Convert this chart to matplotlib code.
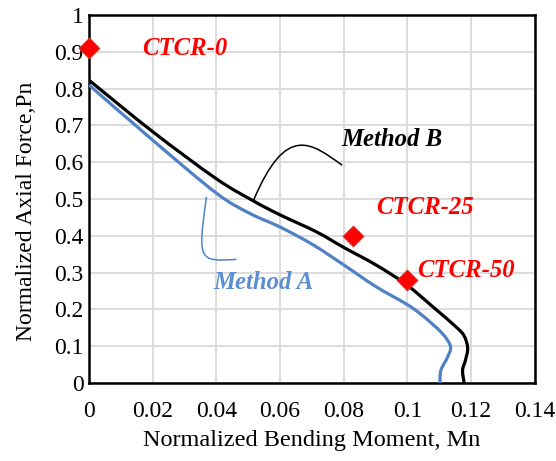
import numpy as np
import matplotlib.pyplot as plt
from matplotlib.path import Path
from matplotlib.patches import PathPatch

# Method A (blue) interaction curve
mA_x = [0.0, 0.02, 0.04, 0.0505, 0.06, 0.0703, 0.08, 0.0901, 0.0996,
        0.1045, 0.1107, 0.1135, 0.1126, 0.1105, 0.1102]
mA_y = [0.810, 0.660, 0.516, 0.461, 0.424, 0.376, 0.321, 0.262, 0.215,
        0.185, 0.137, 0.100, 0.071, 0.035, 0.0]

# Method B (black) interaction curve
mB_x = [0.0, 0.02, 0.04, 0.0516, 0.06, 0.0714, 0.0797, 0.0901, 0.0996, 0.108,
        0.1152, 0.1178, 0.1189, 0.1182, 0.1173, 0.1178]
mB_y = [0.823, 0.683, 0.555, 0.495, 0.457, 0.411, 0.370, 0.321, 0.268, 0.207,
        0.153, 0.128, 0.095, 0.062, 0.035, 0.0]

# test specimens
spec_names = ["CTCR-0", "CTCR-25", "CTCR-50"]
spec_x = [0.0, 0.083, 0.100]
spec_y = [0.91, 0.40, 0.28]

xticks = [0, 0.02, 0.04, 0.06, 0.08, 0.1, 0.12, 0.14]
yticks = [0, 0.1, 0.2, 0.3, 0.4, 0.5, 0.6, 0.7, 0.8, 0.9, 1]

BLUE = "#4F81C4"
plt.rcParams["font.family"] = ["Liberation Serif", "DejaVu Serif"]


def smooth_path(xs, ys):
    """Excel-like smoothed line: Catmull-Rom through the points as cubic Beziers."""
    p = np.column_stack([xs, ys])
    verts = [p[0]]
    codes = [Path.MOVETO]
    n = len(p)
    for i in range(n - 1):
        p0 = p[i - 1] if i > 0 else p[i]
        p3 = p[i + 2] if i + 2 < n else p[i + 1]
        c1 = p[i] + (p[i + 1] - p0) / 6.0
        c2 = p[i + 1] - (p3 - p[i]) / 6.0
        verts += [c1, c2, p[i + 1]]
        codes += [Path.CURVE4] * 3
    return Path(verts, codes)


fig = plt.figure(figsize=(5.56, 4.61), dpi=100)
ax = fig.add_axes([0.160, 0.169, 0.802, 0.7985])

ax.add_patch(PathPatch(smooth_path(mA_x, mA_y), fc="none", ec=BLUE, lw=2.3,
                       joinstyle="round", zorder=3))
ax.add_patch(PathPatch(smooth_path(mB_x, mB_y), fc="none", ec="black", lw=2.3,
                       joinstyle="round", zorder=3))
ax.scatter(spec_x, spec_y, marker="D", s=110, color="#FF0000",
           edgecolor="#C0392B", linewidth=0.8, zorder=5, clip_on=False)

# specimen labels
lab_pos = [(0.0166, 0.909), (0.0903, 0.476), (0.1030, 0.307)]
for name, (lx, ly) in zip(spec_names, lab_pos):
    ax.text(lx, ly, name, color="#FF0000", fontsize=17.8, fontweight="bold",
            fontstyle="italic", va="center", ha="left")

ax.text(0.0793, 0.663, "Method B", color="black", fontsize=17.8,
        fontweight="bold", fontstyle="italic", va="center", ha="left")
ax.text(0.0389, 0.274, "Method A", color="#5B8ED3", fontsize=17.8,
        fontweight="bold", fontstyle="italic", va="center", ha="left")

# curved callout leaders
pB = Path([(0.0516, 0.495), (0.062, 0.71), (0.070, 0.65), (0.0795, 0.592)],
          [Path.MOVETO, Path.CURVE4, Path.CURVE4, Path.CURVE4])
ax.add_patch(PathPatch(pB, fc="none", ec="black", lw=1.1, zorder=4))
pA = Path([(0.0369, 0.506), (0.0340, 0.33), (0.0345, 0.33), (0.0463, 0.336)],
          [Path.MOVETO, Path.CURVE4, Path.CURVE4, Path.CURVE4])
ax.add_patch(PathPatch(pA, fc="none", ec=BLUE, lw=1.1, zorder=4))

ax.set_xlim(0, 0.14)
ax.set_ylim(0, 1)
ax.set_xticks(xticks)
ax.set_xticklabels(["0", "0.02", "0.04", "0.06", "0.08", "0.1", "0.12", "0.14"])
ax.set_yticks(yticks)
ax.set_yticklabels(["0", "0.1", "0.2", "0.3", "0.4", "0.5", "0.6", "0.7", "0.8", "0.9", "1"])
ax.tick_params(length=0, labelsize=17)
ax.tick_params(axis="x", pad=13)
ax.tick_params(axis="y", pad=4)
ax.grid(True, color="#D9D9D9", lw=1.3)
ax.set_axisbelow(True)
for s in ax.spines.values():
    s.set_linewidth(1.8)
    s.set_color("black")

ax.set_xlabel("Normalized Bending Moment, Mn", fontsize=17.5)
ax.set_ylabel("Normalized Axial Force,Pn", fontsize=17)
ax.xaxis.set_label_coords(0.5, -0.155)
ax.xaxis.label.set_verticalalignment("center")
ax.yaxis.set_label_coords(-0.140, 0.467)
ax.yaxis.label.set_verticalalignment("center")

fig.savefig("out.png", dpi=100)
